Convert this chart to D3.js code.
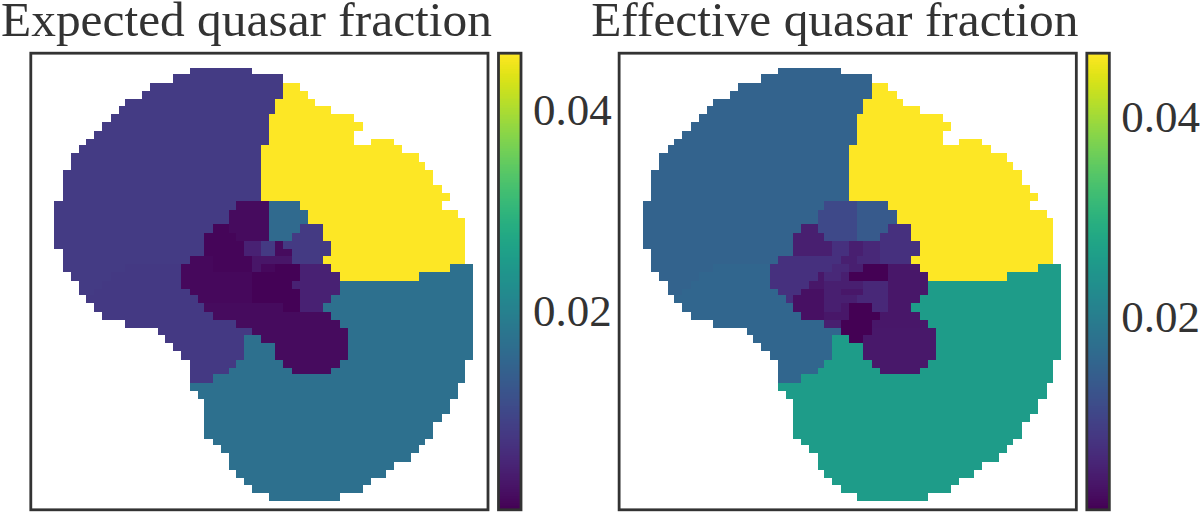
<!DOCTYPE html>
<html>
<head>
<meta charset="utf-8">
<script src="https://cdn.jsdelivr.net/npm/d3@7"></script>
<style>
  html, body { margin: 0; padding: 0; background: #fff; }
  svg { display: block; }
  text { font-family: "Liberation Serif", serif; fill: #333; }
</style>
</head>
<body>
<div id="chart"></div>
<script>
// every row of the map is run-length coded: count + cell code ("." = no data)
// rows share the outer regions, P is the central part that the overlays refine
var sharedRows = [
  "17. 8B",
  "15. 14B",
  "12. 17B 2Y",
  "11. 18B 3Y",
  "9. 19B 5Y",
  "8. 20B 7Y",
  "7. 20B 11Y",
  "6. 21B 12Y",
  "5. 22B 11Y",
  "4. 23B 11Y 2. 3Y",
  "3. 23B 18Y",
  "2. 24B 20Y",
  "2. 24B 21Y",
  "1. 25B 22Y",
  "1. 25B 22Y",
  "1. 25B 23Y",
  "1. 25B 24Y",
  "23B 8P 18Y",
  "22B 10P 19Y",
  "22B 10P 20Y",
  "20B 14P 18Y",
  "19B 15P 18Y",
  "19B 16P 17Y",
  "1. 18B 16P 17Y",
  "1. 16B 17P 18Y",
  "1. 8B 7W 19P 15Y 3T",
  "2. 5B 9W 20P 10Y 7T",
  "3. 3B 10W 20P 17T",
  "3. 2B 12W 19P 17T",
  "4. 14W 17P 18T",
  "5. 14W 15P 19T",
  "6. 14W 15P 18T",
  "9. 14W 13P 17T",
  "13. 12W 12P 16T",
  "14. 10W 2T 11P 16T",
  "15. 9W 4T 9P 16T",
  "16. 8W 4T 9P 16T",
  "17. 6W 6T 7P 16T",
  "17. 5W 8T 5P 17T",
  "17. 3W 32T",
  "17. 34T",
  "18. 33T",
  "19. 31T",
  "19. 31T",
  "19. 30T",
  "19. 29T",
  "19. 29T",
  "20. 27T",
  "21. 25T",
  "22. 23T",
  "22. 21T",
  "23. 19T",
  "24. 16T",
  "25. 14T",
  "27. 9T"
];

// central tiles, these start at column 16 of row 17
var expectedCentre = [
  "7. 4d 4k",
  "6. 5d 5k",
  "6. 5d 5k",
  "4. 2b 5d 4k 3h",
  "3. 4b 4d 3k 4h",
  "3. 5b 2f 2h 1d 6h",
  "3. 5b 2f 2h 2d 5h",
  "1. 3c 5b 5e 4h",
  "4c 5b 1e 2c 3a 4f",
  "9c 6a 5f",
  "9c 5a 6f",
  "1. 8c 6a 5f",
  "2. 7c 6a 4f",
  "3. 6d 4d 2a 3f"
];
var effectiveCentre = [
  "7. 4i 4j",
  "6. 5i 5j",
  "6. 5i 5j",
  "4. 2e 5i 4j 3g",
  "3. 4e 4i 3j 4g",
  "3. 5e 2g 2e 2f 5g",
  "3. 5e 2g 2e 2f 5g",
  "1. 8g 2e 3f 4g",
  "8g 2f 2e 3a 4d",
  "6g 1d 2f 1e 5a 5d",
  "5g 2d 5e 3f 5d",
  "1. 3g 3c 2e 3d 3f 5d",
  "2. 1g 4c 4e 4f 4d",
  "3. 4c 2e 1d 3a 2f 3d",
  "4. 3c 3d 4a 5d",
  "7. 2e 4a 7d",
  "9. 4a",
  "10. 2a"
];

var centreCodes = ["a", "b", "c", "d", "e", "f", "g", "h", "i", "j", "k"];
var expectedCentreValues = [0.0004, 0.0007, 0.0010, 0.0015, 0.0026, 0.0042, 0.0060, 0.0078, 0.0100, 0.0130, 0.0156];
var effectiveCentreValues = [0.0008, 0.0016, 0.0025, 0.0035, 0.0045, 0.0057, 0.0070, 0.0085, 0.0108, 0.0135, 0.0163];

var regionCodes = ["B", "W", "Y", "T", "P"];
var expectedRegions = [0.0080, 0.0076, 0.0457, 0.0167, 0.0014];
var effectiveRegions = [0.0150, 0.0156, 0.0464, 0.0258, 0.0036];

var panelTitles = ["Expected quasar fraction", "Effective quasar fraction"];
var expectedDomain = [0.0001, 0.0457];
var effectiveDomain = [0.0007, 0.0464];
var colorTicks = [0.02, 0.04];

var centreRow = 17, centreCol = 16;
var width = 1200, height = 512;

function decodeRow(row) {
  var cells = [];
  row.split(" ").forEach(function(run) {
    var n = parseInt(run);
    var code = run.slice(String(n).length);
    for (var i = 0; i < n; i++) cells.push(code);
  });
  return cells;
}

// builds the value table of one panel
function buildCells(centre, centreValues, regionValues) {
  var cells = [];
  sharedRows.forEach(function(row, j) {
    var codes = decodeRow(row);
    var over = centre[j - centreRow] ? decodeRow(centre[j - centreRow]) : [];
    codes.forEach(function(code, k) {
      var tile = over[k - centreCol];
      if (tile && tile !== ".") {
        cells.push({ col: k, row: j, value: centreValues[centreCodes.indexOf(tile)] });
      } else if (code !== ".") {
        cells.push({ col: k, row: j, value: regionValues[regionCodes.indexOf(code)] });
      }
    });
  });
  return cells;
}

// the map was rasterised coarsely, so cell edges land on a 2.083px lattice
var lattice = 2.083;
var colScale = d3.scaleLinear().domain([0, 1]).range([0.29, 4.08]);
var rowScale = d3.scaleLinear().domain([1, 2]).range([0.29, 4.08]);
function xEdge(k) { return 54.33 + lattice * Math.round(colScale(k)); }
function yEdge(j) { return 74.33 + lattice * Math.round(rowScale(j)); }

var svg = d3.select("#chart").append("svg")
  .attr("width", width)
  .attr("height", height);

function drawPanel(offset, title, cells, domain) {
  var color = d3.scaleSequential(d3.interpolateViridis).domain(domain);
  var colorY = d3.scaleLinear().domain(domain).range([510, 53]);

  var g = svg.append("g").attr("transform", "translate(" + offset + ",0)");

  g.append("g").selectAll("rect")
    .data(cells)
    .enter().append("rect")
    .attr("x", function(d) { return xEdge(d.col); })
    .attr("y", function(d) { return yEdge(d.row); })
    .attr("width", function(d) { return xEdge(d.col + 1) - xEdge(d.col); })
    .attr("height", function(d) { return yEdge(d.row + 1) - yEdge(d.row); })
    .attr("shape-rendering", "crispEdges")
    .style("fill", function(d) { return color(d.value); });

  g.append("rect")
    .attr("x", 30.8)
    .attr("y", 53.2)
    .attr("width", 457.2)
    .attr("height", 456.6)
    .style("fill", "none")
    .style("stroke", "#333")
    .style("stroke-width", 2.8);

  g.append("text")
    .attr("x", 246.5)
    .attr("y", 36)
    .attr("text-anchor", "middle")
    .style("font-size", "49.4px")
    .text(title);

  // colorbar, one strip per pixel
  var strips = d3.range(53, 510);
  g.append("g").selectAll("rect")
    .data(strips)
    .enter().append("rect")
    .attr("x", 498.5)
    .attr("y", function(d) { return d; })
    .attr("width", 22.5)
    .attr("height", 1)
    .attr("shape-rendering", "crispEdges")
    .style("fill", function(d) { return color(colorY.invert(d + 0.5)); });

  g.append("rect")
    .attr("x", 498.5)
    .attr("y", 53.2)
    .attr("width", 22.5)
    .attr("height", 456.6)
    .style("fill", "none")
    .style("stroke", "#333")
    .style("stroke-width", 2.8);

  var axis = d3.axisRight(colorY)
    .tickValues(colorTicks)
    .tickSize(0)
    .tickPadding(0)
    .tickFormat(d3.format(".2f"));

  var axisG = g.append("g")
    .attr("transform", "translate(533,0)")
    .call(axis);
  axisG.select(".domain").remove();
  axisG.selectAll("text")
    .attr("x", 0)
    .attr("dy", "0.33em")
    .style("font-size", "45px")
    .style("font-family", '"Liberation Serif", serif')
    .style("fill", "#333");
}

drawPanel(0, panelTitles[0], buildCells(expectedCentre, expectedCentreValues, expectedRegions), expectedDomain);
drawPanel(588.33, panelTitles[1], buildCells(effectiveCentre, effectiveCentreValues, effectiveRegions), effectiveDomain);
</script>
</body>
</html>
